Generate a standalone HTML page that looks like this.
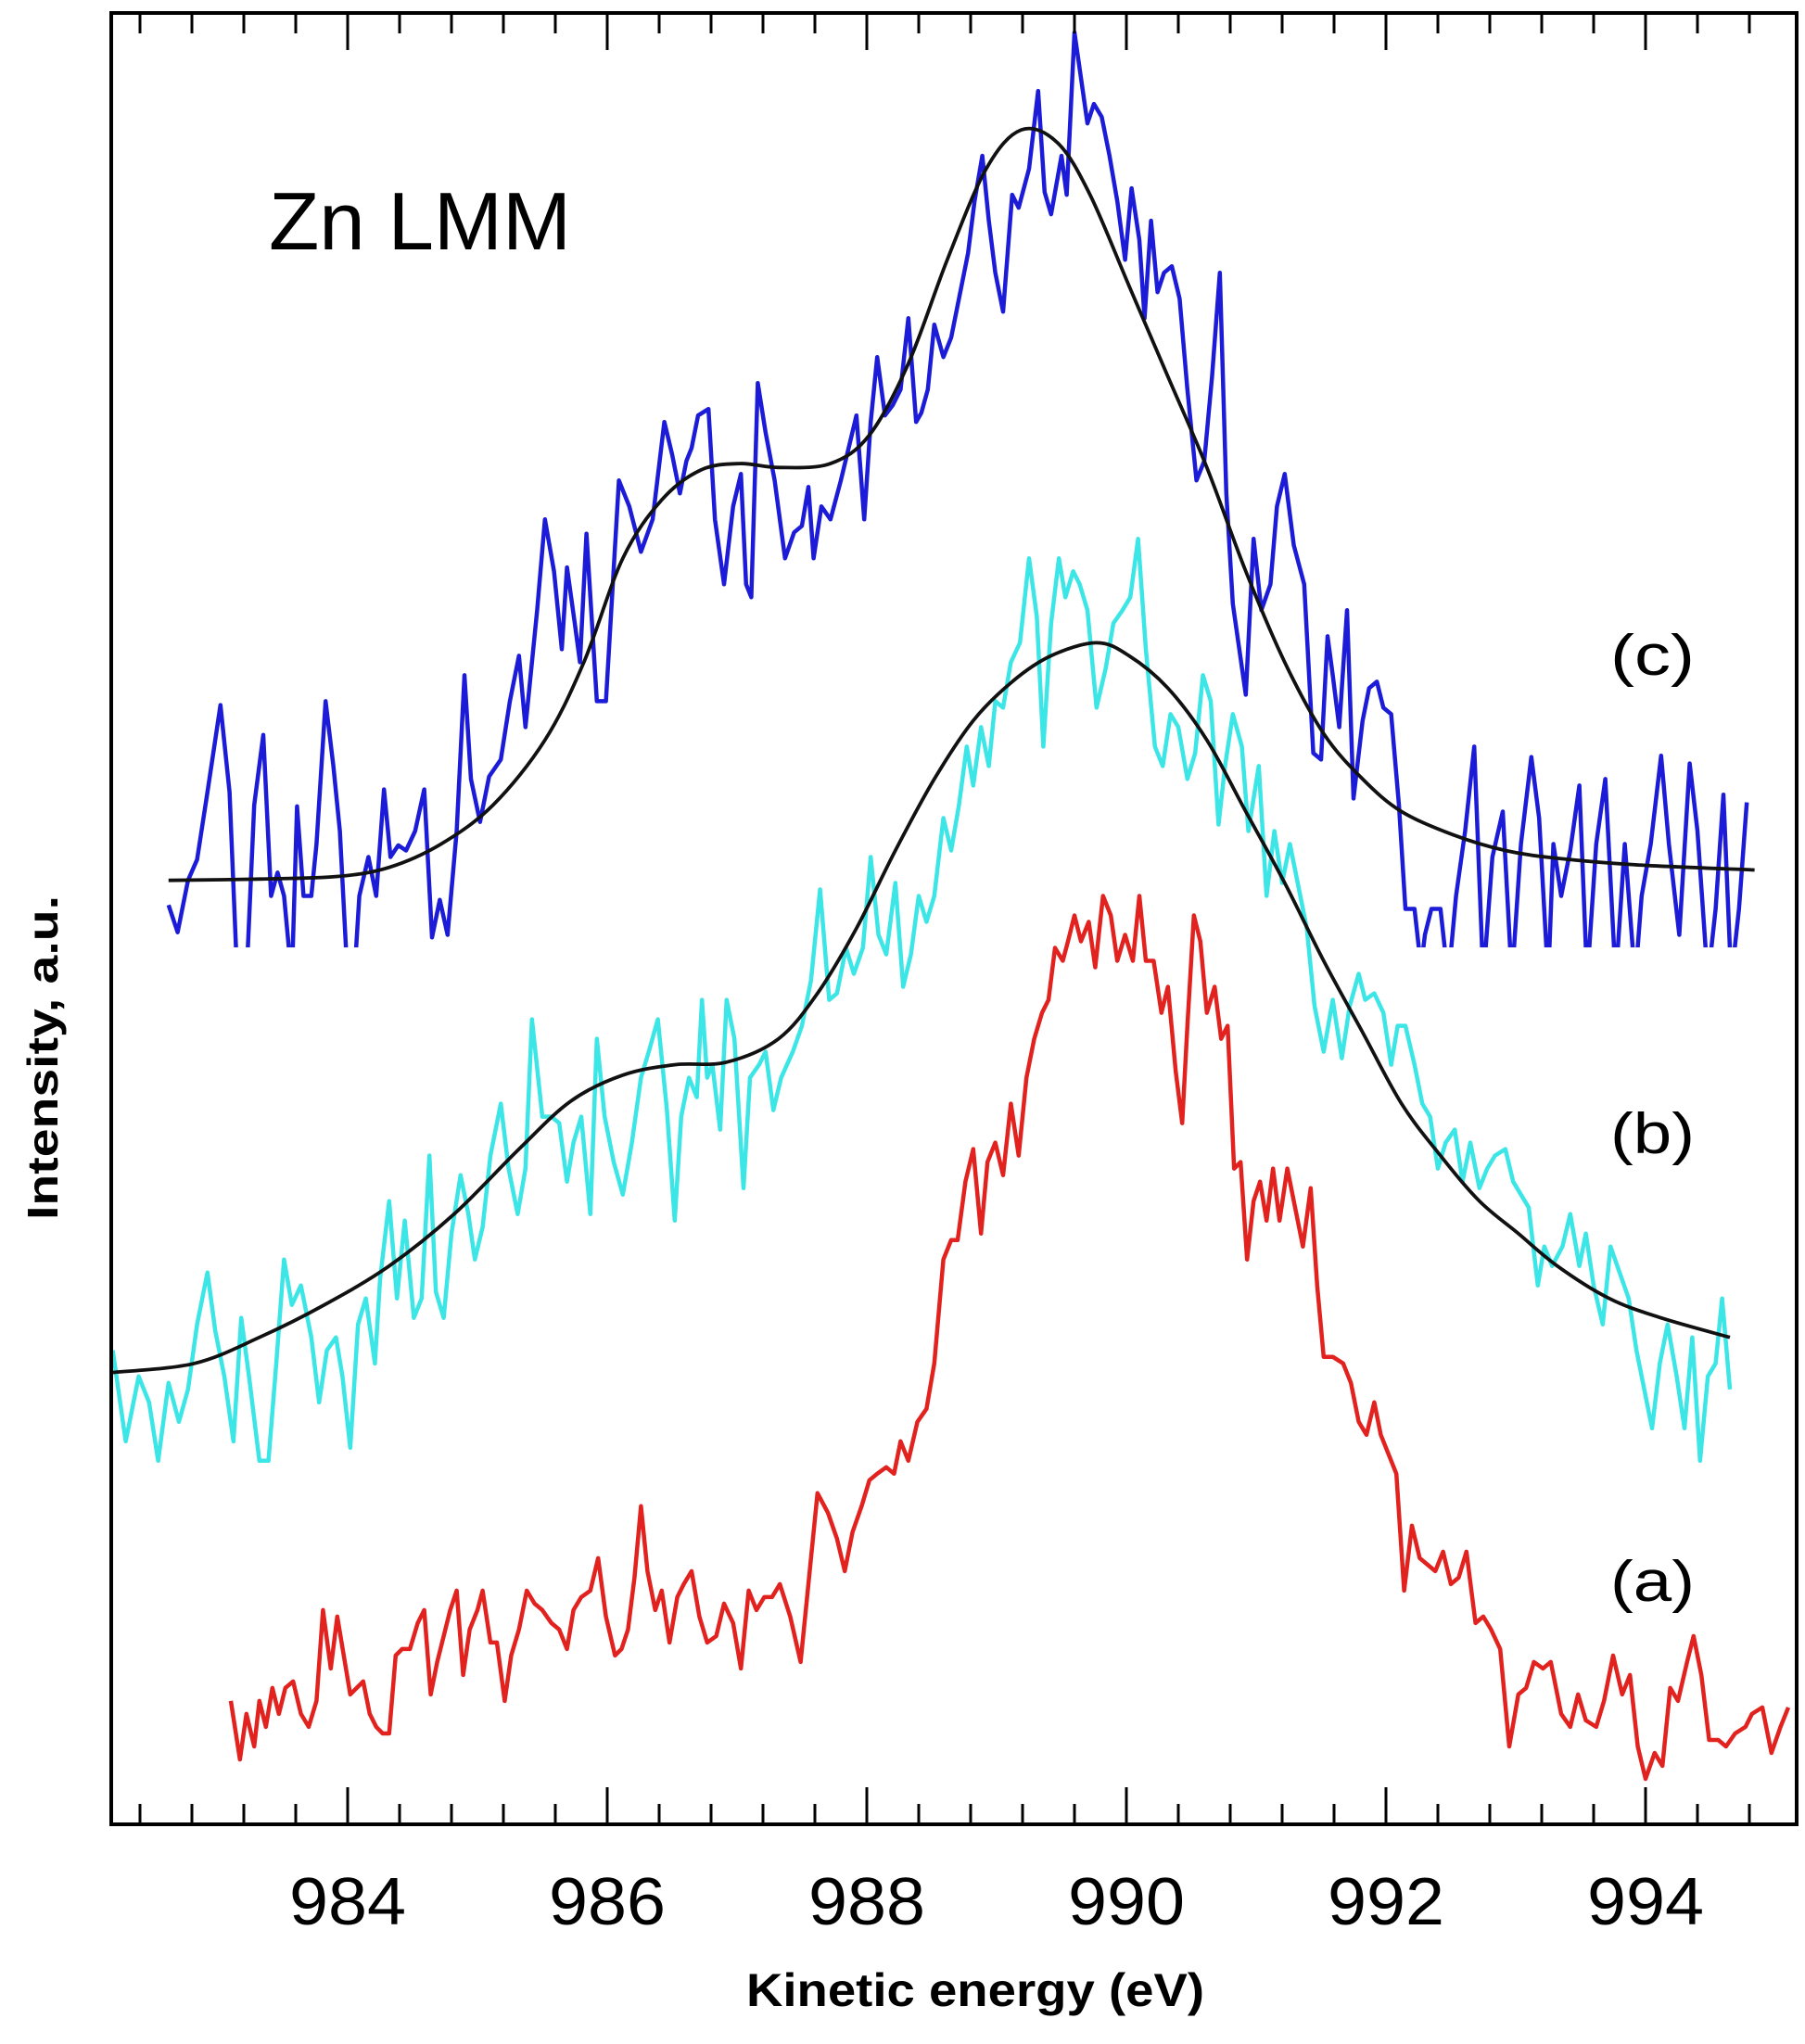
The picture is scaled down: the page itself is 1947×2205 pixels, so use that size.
<!DOCTYPE html>
<html><head><meta charset="utf-8"><title>Zn LMM</title>
<style>html,body{margin:0;padding:0;background:#fff}svg{display:block}</style></head>
<body>
<svg id="chart" width="1947" height="2205" viewBox="0 0 1947 2205" xmlns="http://www.w3.org/2000/svg" font-family="Liberation Sans, sans-serif">
<defs><clipPath id="plotclip"><rect x="120" y="14" width="1818" height="1954"/></clipPath>
<clipPath id="blueclip"><rect x="120" y="14" width="1818" height="1008"/></clipPath></defs>
<g id="series" clip-path="url(#plotclip)"></g>
<g id="axes"></g>
<text x="290" y="269" font-size="88" textLength="326" lengthAdjust="spacingAndGlyphs">Zn LMM</text>
<text x="1737" y="728" font-size="62" textLength="91" lengthAdjust="spacingAndGlyphs">(c)</text>
<text x="1737" y="1244" font-size="62" textLength="91" lengthAdjust="spacingAndGlyphs">(b)</text>
<text x="1737" y="1727" font-size="62" textLength="91" lengthAdjust="spacingAndGlyphs">(a)</text>
<text x="1052" y="2164" font-size="50" font-weight="bold" text-anchor="middle" textLength="494" lengthAdjust="spacingAndGlyphs">Kinetic energy (eV)</text>
<text transform="translate(62,1141) rotate(-90)" font-size="46" font-weight="bold" text-anchor="middle" textLength="350" lengthAdjust="spacingAndGlyphs">Intensity, a.u.</text>
</svg>
<script>
const tickLabels = [984, 986, 988, 990, 992, 994];
const cE = [982.62,982.69,982.77,982.84,982.92,983.02,983.09,983.15,983.22,983.28,983.35,983.41,983.46,983.51,983.57,983.61,983.66,983.72,983.76,983.83,983.89,983.94,984.00,984.05,984.09,984.16,984.22,984.28,984.33,984.39,984.45,984.52,984.59,984.65,984.71,984.77,984.84,984.90,984.95,985.02,985.09,985.18,985.25,985.32,985.37,985.46,985.52,985.59,985.65,985.69,985.75,985.79,985.84,985.92,985.99,986.04,986.09,986.17,986.26,986.35,986.44,986.50,986.56,986.61,986.65,986.70,986.78,986.83,986.90,986.97,987.03,987.07,987.11,987.16,987.22,987.29,987.37,987.44,987.50,987.55,987.59,987.65,987.72,987.80,987.86,987.92,987.98,988.03,988.08,988.14,988.20,988.26,988.32,988.38,988.42,988.47,988.52,988.59,988.65,988.72,988.78,988.83,988.89,988.94,988.99,989.05,989.12,989.17,989.25,989.32,989.37,989.42,989.50,989.54,989.60,989.65,989.70,989.75,989.81,989.87,989.93,989.99,990.04,990.10,990.14,990.19,990.24,990.29,990.35,990.41,990.47,990.54,990.60,990.66,990.72,990.77,990.82,990.87,990.92,990.98,991.04,991.11,991.16,991.22,991.29,991.37,991.44,991.50,991.55,991.59,991.64,991.70,991.75,991.82,991.87,991.93,991.98,992.04,992.10,992.15,992.22,992.27,992.30,992.35,992.42,992.48,992.54,992.61,992.68,992.75,992.82,992.90,992.97,993.04,993.12,993.18,993.25,993.29,993.35,993.42,993.49,993.55,993.62,993.69,993.77,993.84,993.92,993.97,994.04,994.12,994.18,994.26,994.34,994.40,994.48,994.54,994.60,994.66,994.72,994.78,994.84];
const cI = [708,687,727,743,795,862,795,650,650,785,839,715,733,715,650,784,715,715,755,865,815,765,650,650,715,745,715,797,745,754,750,765,797,683,712,685,765,885,805,772,807,820,865,900,845,935,1005,965,905,968,925,895,994,865,865,950,1035,1015,980,1005,1080,1055,1025,1050,1060,1085,1090,1005,955,1015,1040,955,945,1110,1072,1035,975,995,1000,1030,975,1015,1005,1035,1060,1085,1005,1080,1130,1085,1093,1105,1160,1080,1087,1105,1155,1130,1145,1180,1210,1250,1285,1235,1195,1165,1255,1245,1275,1335,1257,1240,1285,1255,1380,1345,1310,1325,1315,1285,1250,1205,1260,1220,1160,1235,1180,1195,1200,1175,1105,1035,1050,1115,1195,1025,940,905,870,990,935,955,1015,1040,985,955,825,820,915,885,845,935,790,850,875,880,860,855,785,705,705,660,685,705,705,650,715,765,830,650,745,780,650,755,822,775,650,755,715,750,800,650,755,805,650,755,650,715,755,823,755,685,817,765,650,705,793,650,705,787];
const cFitE = [982.62,983.32,983.92,984.32,984.72,985.12,985.52,985.82,986.12,986.42,986.72,987.02,987.32,987.72,988.02,988.32,988.62,988.92,989.19,989.47,989.72,990.02,990.32,990.62,990.92,991.22,991.52,991.82,992.12,992.52,992.92,993.32,993.92,994.84];
const cFitI = [727,728,730,737,755,785,835,895,975,1020,1043,1048,1045,1048,1070,1125,1205,1275,1305,1295,1255,1185,1115,1045,965,895,840,805,780,762,750,744,739,735];
const bE = [982.19,982.29,982.39,982.47,982.54,982.62,982.70,982.77,982.84,982.92,982.98,983.05,983.12,983.18,983.24,983.32,983.39,983.45,983.51,983.57,983.64,983.72,983.78,983.84,983.91,983.96,984.02,984.08,984.14,984.21,984.25,984.32,984.38,984.44,984.51,984.57,984.63,984.68,984.74,984.80,984.87,984.93,984.98,985.04,985.10,985.18,985.24,985.31,985.37,985.42,985.50,985.57,985.63,985.69,985.74,985.80,985.87,985.92,985.98,986.05,986.12,986.19,986.26,986.32,986.39,986.46,986.52,986.57,986.63,986.69,986.73,986.77,986.81,986.87,986.92,986.98,987.05,987.10,987.17,987.22,987.28,987.34,987.43,987.50,987.57,987.64,987.71,987.77,987.84,987.90,987.97,988.03,988.09,988.15,988.22,988.28,988.34,988.40,988.46,988.52,988.59,988.65,988.71,988.77,988.82,988.88,988.94,988.99,989.05,989.11,989.18,989.25,989.31,989.36,989.42,989.48,989.53,989.59,989.64,989.70,989.77,989.84,989.90,989.97,990.03,990.09,990.15,990.22,990.28,990.34,990.40,990.47,990.53,990.59,990.65,990.71,990.76,990.82,990.89,990.94,991.02,991.08,991.14,991.20,991.26,991.32,991.39,991.45,991.52,991.59,991.66,991.72,991.79,991.84,991.91,991.98,992.04,992.09,992.15,992.22,992.28,992.34,992.40,992.46,992.53,992.59,992.65,992.72,992.78,992.84,992.92,992.98,993.04,993.10,993.17,993.22,993.28,993.36,993.42,993.49,993.54,993.60,993.67,993.73,993.80,993.87,993.93,993.99,994.05,994.11,994.17,994.24,994.30,994.36,994.42,994.48,994.54,994.59,994.65];
const bI = [365,295,345,325,280,340,310,335,385,425,380,345,295,390,345,280,280,355,435,400,415,375,325,365,375,345,290,385,405,355,420,480,405,465,390,405,515,410,390,455,500,470,435,460,515,555,505,470,505,620,545,545,540,495,525,545,470,605,545,510,485,525,575,595,620,550,465,545,575,560,635,575,585,535,635,605,490,575,585,595,550,575,595,615,650,720,635,640,675,655,675,745,685,670,725,645,670,715,695,715,775,750,785,830,800,845,815,865,860,895,910,975,930,830,925,975,945,965,955,935,860,890,925,935,945,990,905,830,815,855,845,805,825,885,865,770,815,855,830,765,815,715,765,725,755,725,690,630,595,635,590,630,655,635,640,625,585,615,615,585,555,545,505,525,535,495,525,490,505,515,520,495,485,475,415,445,430,445,470,430,455,415,385,445,425,405,365,335,305,355,385,345,305,375,280,345,355,405,335];
const bFitE = [982.19,982.82,983.32,983.82,984.32,984.82,985.32,985.72,986.12,986.52,986.92,987.32,987.62,987.92,988.22,988.52,988.82,989.12,989.42,989.77,990.02,990.32,990.62,990.92,991.22,991.52,991.82,992.12,992.42,992.72,993.02,993.32,993.72,994.12,994.65];
const bFitI = [348,355,375,400,430,470,520,557,577,585,587,605,640,690,750,805,850,880,900,910,900,875,835,780,725,665,610,555,515,480,455,430,405,390,375];
const aE = [983.10,983.17,983.22,983.28,983.32,983.37,983.42,983.47,983.52,983.58,983.64,983.70,983.76,983.81,983.87,983.92,983.97,984.02,984.07,984.12,984.17,984.22,984.27,984.32,984.37,984.42,984.48,984.54,984.59,984.64,984.69,984.74,984.79,984.84,984.89,984.94,985.00,985.04,985.10,985.15,985.21,985.26,985.32,985.38,985.44,985.50,985.57,985.63,985.69,985.74,985.80,985.87,985.93,985.99,986.06,986.11,986.16,986.21,986.26,986.31,986.37,986.42,986.48,986.54,986.59,986.65,986.71,986.77,986.84,986.90,986.97,987.03,987.09,987.15,987.21,987.27,987.33,987.41,987.49,987.56,987.62,987.70,987.77,987.83,987.89,987.96,988.02,988.08,988.15,988.21,988.26,988.32,988.39,988.46,988.52,988.59,988.65,988.70,988.76,988.82,988.88,988.93,988.99,989.05,989.11,989.17,989.23,989.29,989.35,989.40,989.45,989.51,989.55,989.60,989.65,989.71,989.76,989.82,989.88,989.93,989.99,990.05,990.10,990.15,990.21,990.27,990.32,990.38,990.43,990.47,990.52,990.57,990.62,990.68,990.73,990.78,990.83,990.88,990.93,990.98,991.03,991.08,991.13,991.18,991.24,991.30,991.36,991.42,991.47,991.52,991.59,991.67,991.73,991.79,991.85,991.91,991.96,992.02,992.08,992.14,992.20,992.26,992.32,992.38,992.44,992.50,992.56,992.62,992.69,992.75,992.81,992.88,992.95,993.02,993.08,993.14,993.21,993.27,993.35,993.42,993.48,993.54,993.62,993.68,993.75,993.82,993.88,993.94,994.00,994.07,994.13,994.19,994.25,994.32,994.37,994.43,994.49,994.56,994.62,994.69,994.77,994.82,994.90,994.97,995.04,995.10];
const aI = [95,50,85,60,95,75,105,85,105,110,85,75,95,165,120,160,130,100,105,110,85,75,70,70,130,135,135,155,165,100,125,145,165,180,115,150,165,180,140,140,95,130,150,180,170,165,155,150,135,165,175,180,205,160,130,135,150,190,245,195,165,180,140,175,185,195,160,140,145,170,155,120,180,165,175,175,185,160,125,195,255,240,220,195,225,245,265,270,275,270,295,280,310,320,355,435,450,450,495,520,455,510,525,500,555,515,575,605,625,635,675,665,680,700,680,695,660,715,700,665,685,665,715,665,665,625,645,580,540,615,700,680,625,645,605,615,505,510,435,480,495,465,505,465,505,475,445,490,415,360,360,355,340,310,300,325,300,285,270,180,230,205,200,195,210,185,190,210,155,160,150,135,60,100,105,125,120,125,85,75,100,80,75,95,130,100,115,60,35,55,45,105,95,125,145,115,65,65,60,70,75,85,90,55,75,90];

const NS = 'http://www.w3.org/2000/svg';
function xPx(e){ return 375 + (e - 984) * 140; }
function yPx(v){ return 1968 - v * 1.4007; }
function linePath(E, I){ return E.map((e,i)=>(i?'L':'M')+xPx(e).toFixed(1)+' '+yPx(I[i]).toFixed(1)).join(' '); }
function smoothPath(E, I){
  const p = E.map((e,i)=>[xPx(e), yPx(I[i])]);
  let d = 'M'+p[0][0].toFixed(1)+' '+p[0][1].toFixed(1);
  for (let i=0;i<p.length-1;i++){
    const p0=p[Math.max(i-1,0)], p1=p[i], p2=p[i+1], p3=p[Math.min(i+2,p.length-1)];
    const c1=[p1[0]+(p2[0]-p0[0])/6, p1[1]+(p2[1]-p0[1])/6];
    const c2=[p2[0]-(p3[0]-p1[0])/6, p2[1]-(p3[1]-p1[1])/6];
    d+=' C'+c1[0].toFixed(1)+' '+c1[1].toFixed(1)+' '+c2[0].toFixed(1)+' '+c2[1].toFixed(1)+' '+p2[0].toFixed(1)+' '+p2[1].toFixed(1);
  }
  return d;
}
const series = document.getElementById('series');
function addPath(parent, d, color, w){
  const el = document.createElementNS(NS,'path');
  el.setAttribute('d', d); el.setAttribute('fill','none'); el.setAttribute('stroke', color);
  el.setAttribute('stroke-width', w); el.setAttribute('stroke-linejoin','round');
  parent.appendChild(el); return el;
}
const gBlue = document.createElementNS(NS,'g');
gBlue.setAttribute('clip-path','url(#blueclip)');
series.appendChild(gBlue);
let el;
el = addPath(gBlue, linePath(cE, cI), '#1c1cd8', 4.5);


el = addPath(series, linePath(bE, bI), '#3ce6e6', 4.5);


el = addPath(series, linePath(aE, aI), '#e2221e', 4.5);


el = addPath(series, smoothPath(cFitE, cFitI), '#111', 3.8);


el = addPath(series, smoothPath(bFitE, bFitI), '#111', 3.8);



const axes = document.getElementById('axes');
const frame = document.createElementNS(NS,'rect');
frame.setAttribute('x',120); frame.setAttribute('y',14); frame.setAttribute('width',1818); frame.setAttribute('height',1954);
frame.setAttribute('fill','none'); frame.setAttribute('stroke','#000'); frame.setAttribute('stroke-width',4);


axes.appendChild(frame);
let td = '';
for (let k = 0; k <= 32; k++){
  const e = 982.4 + k*0.4;
  const x = xPx(e);
  if (x < 122 || x > 1936) continue;
  const isMaj = Math.abs(e - Math.round(e)) < 1e-6 && Math.round(e)%2===0;
  const L = isMaj ? 40 : 22;
  td += 'M'+x.toFixed(1)+' 1968 V'+(1968-L)+' M'+x.toFixed(1)+' 14 V'+(14+L)+' ';
}
const ticks = document.createElementNS(NS,'path');
ticks.setAttribute('d', td); ticks.setAttribute('stroke','#000'); ticks.setAttribute('stroke-width',3);


axes.appendChild(ticks);
tickLabels.forEach(v=>{
  const t = document.createElementNS(NS,'text');
  t.setAttribute('x', xPx(v)); t.setAttribute('y', 2076);
  t.setAttribute('text-anchor','middle'); t.setAttribute('font-size', 72);
  t.setAttribute('textLength', 126); t.setAttribute('lengthAdjust','spacingAndGlyphs');
  t.textContent = v;
  
  
  axes.appendChild(t);
});
</script>
</body></html>
